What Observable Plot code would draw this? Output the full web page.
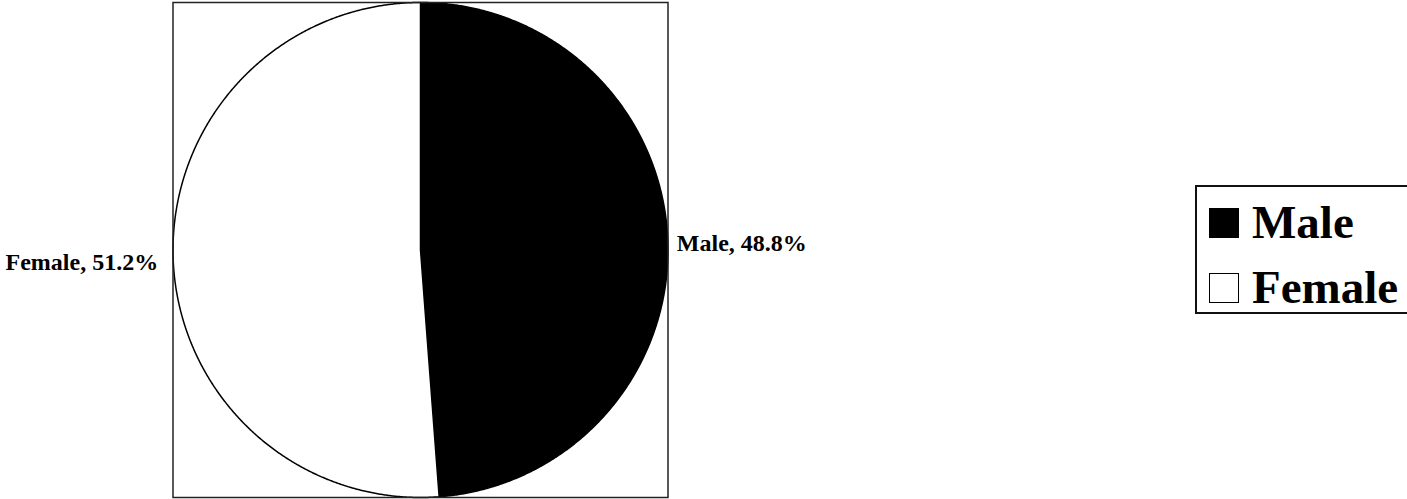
<!DOCTYPE html>
<html>
<head>
<meta charset="utf-8">
<script src="https://cdn.jsdelivr.net/npm/d3@7"></script>
<script src="https://cdn.jsdelivr.net/npm/@observablehq/plot@0.6"></script>
<style>
  html, body { margin: 0; padding: 0; background: #fff; overflow: hidden; }
  #wrap { position: relative; width: 1407px; height: 499px; }
  #wrap svg { position: absolute; left: 0; top: 0; }
  #legend {
    position: absolute; left: 1195px; top: 185px; width: 260px; height: 129px;
    box-sizing: border-box; border: 2px solid #111; background: #fff;
    padding-top: 3px; padding-left: 12px;
    font-family: "Liberation Serif", "Times New Roman", serif; font-weight: bold; font-size: 47px;
  }
  .row { display: flex; align-items: center; height: 65px; line-height: 65px; }
  .sw { width: 30px; height: 30px; box-sizing: border-box; border: 1.5px solid #000; margin-right: 13px; flex: none; }
</style>
</head>
<body>
<div id="wrap"></div>
<script>
const categories = ["Male", "Female"];
const shares = [48.8, 51.2];
const sliceColors = ["#000000", "#ffffff"];

const rows = categories.map((c, i) => ({name: c, value: shares[i]}));
const arcs = d3.pie().sort(null).value(d => d.value)(rows);

// polygon points of each slice, sampled along its arc (angles from 12 o'clock, clockwise)
const pts = [];
for (const a of arcs) {
  const n = Math.max(2, Math.ceil((a.endAngle - a.startAngle) / 0.005));
  pts.push({name: a.data.name, x: 0, y: 0});
  for (let k = 0; k <= n; k++) {
    const t = a.startAngle + (a.endAngle - a.startAngle) * k / n;
    pts.push({name: a.data.name, x: Math.sin(t), y: Math.cos(t)});
  }
  pts.push({name: a.data.name, x: 0, y: 0});
}

const labels = arcs.map(a => {
  const m = (a.startAngle + a.endAngle) / 2;
  return {name: a.data.name, label: `${a.data.name}, ${a.data.value.toFixed(1)}%`, x: Math.sin(m), y: Math.cos(m)};
});

const chart = Plot.plot({
  width: 1407,
  height: 499,
  marginLeft: 172.5,
  marginRight: 739.5,
  marginTop: 2,
  marginBottom: 2,
  x: {domain: [-1, 1], axis: null},
  y: {domain: [-1, 1], axis: null},
  color: {domain: categories, range: sliceColors},
  style: {fontFamily: "Liberation Serif, Times New Roman, serif", background: "#fff"},
  marks: [
    Plot.line(pts, {x: "x", y: "y", z: "name", fill: "name", stroke: "#000", strokeWidth: 1.5, curve: "linear"}),
    Plot.text(labels.filter(d => d.x >= 0), {x: "x", y: "y", text: "label", textAnchor: "start", dx: 9, dy: 2.5, fontSize: 24, fontWeight: "bold", fill: "#000"}),
    Plot.text(labels.filter(d => d.x < 0), {x: "x", y: "y", text: "label", textAnchor: "end", dx: -15, dy: 2.5, fontSize: 24, fontWeight: "bold", fill: "#000"}),
    Plot.frame({stroke: "#222", strokeWidth: 1.5})
  ]
});

const wrap = document.getElementById("wrap");
wrap.appendChild(chart);

const legend = document.createElement("div");
legend.id = "legend";
categories.forEach((c, i) => {
  const row = document.createElement("div");
  row.className = "row";
  const sw = document.createElement("span");
  sw.className = "sw";
  sw.style.background = sliceColors[i];
  const tx = document.createElement("span");
  tx.textContent = c;
  row.appendChild(sw);
  row.appendChild(tx);
  legend.appendChild(row);
});
wrap.appendChild(legend);
</script>
</body>
</html>
